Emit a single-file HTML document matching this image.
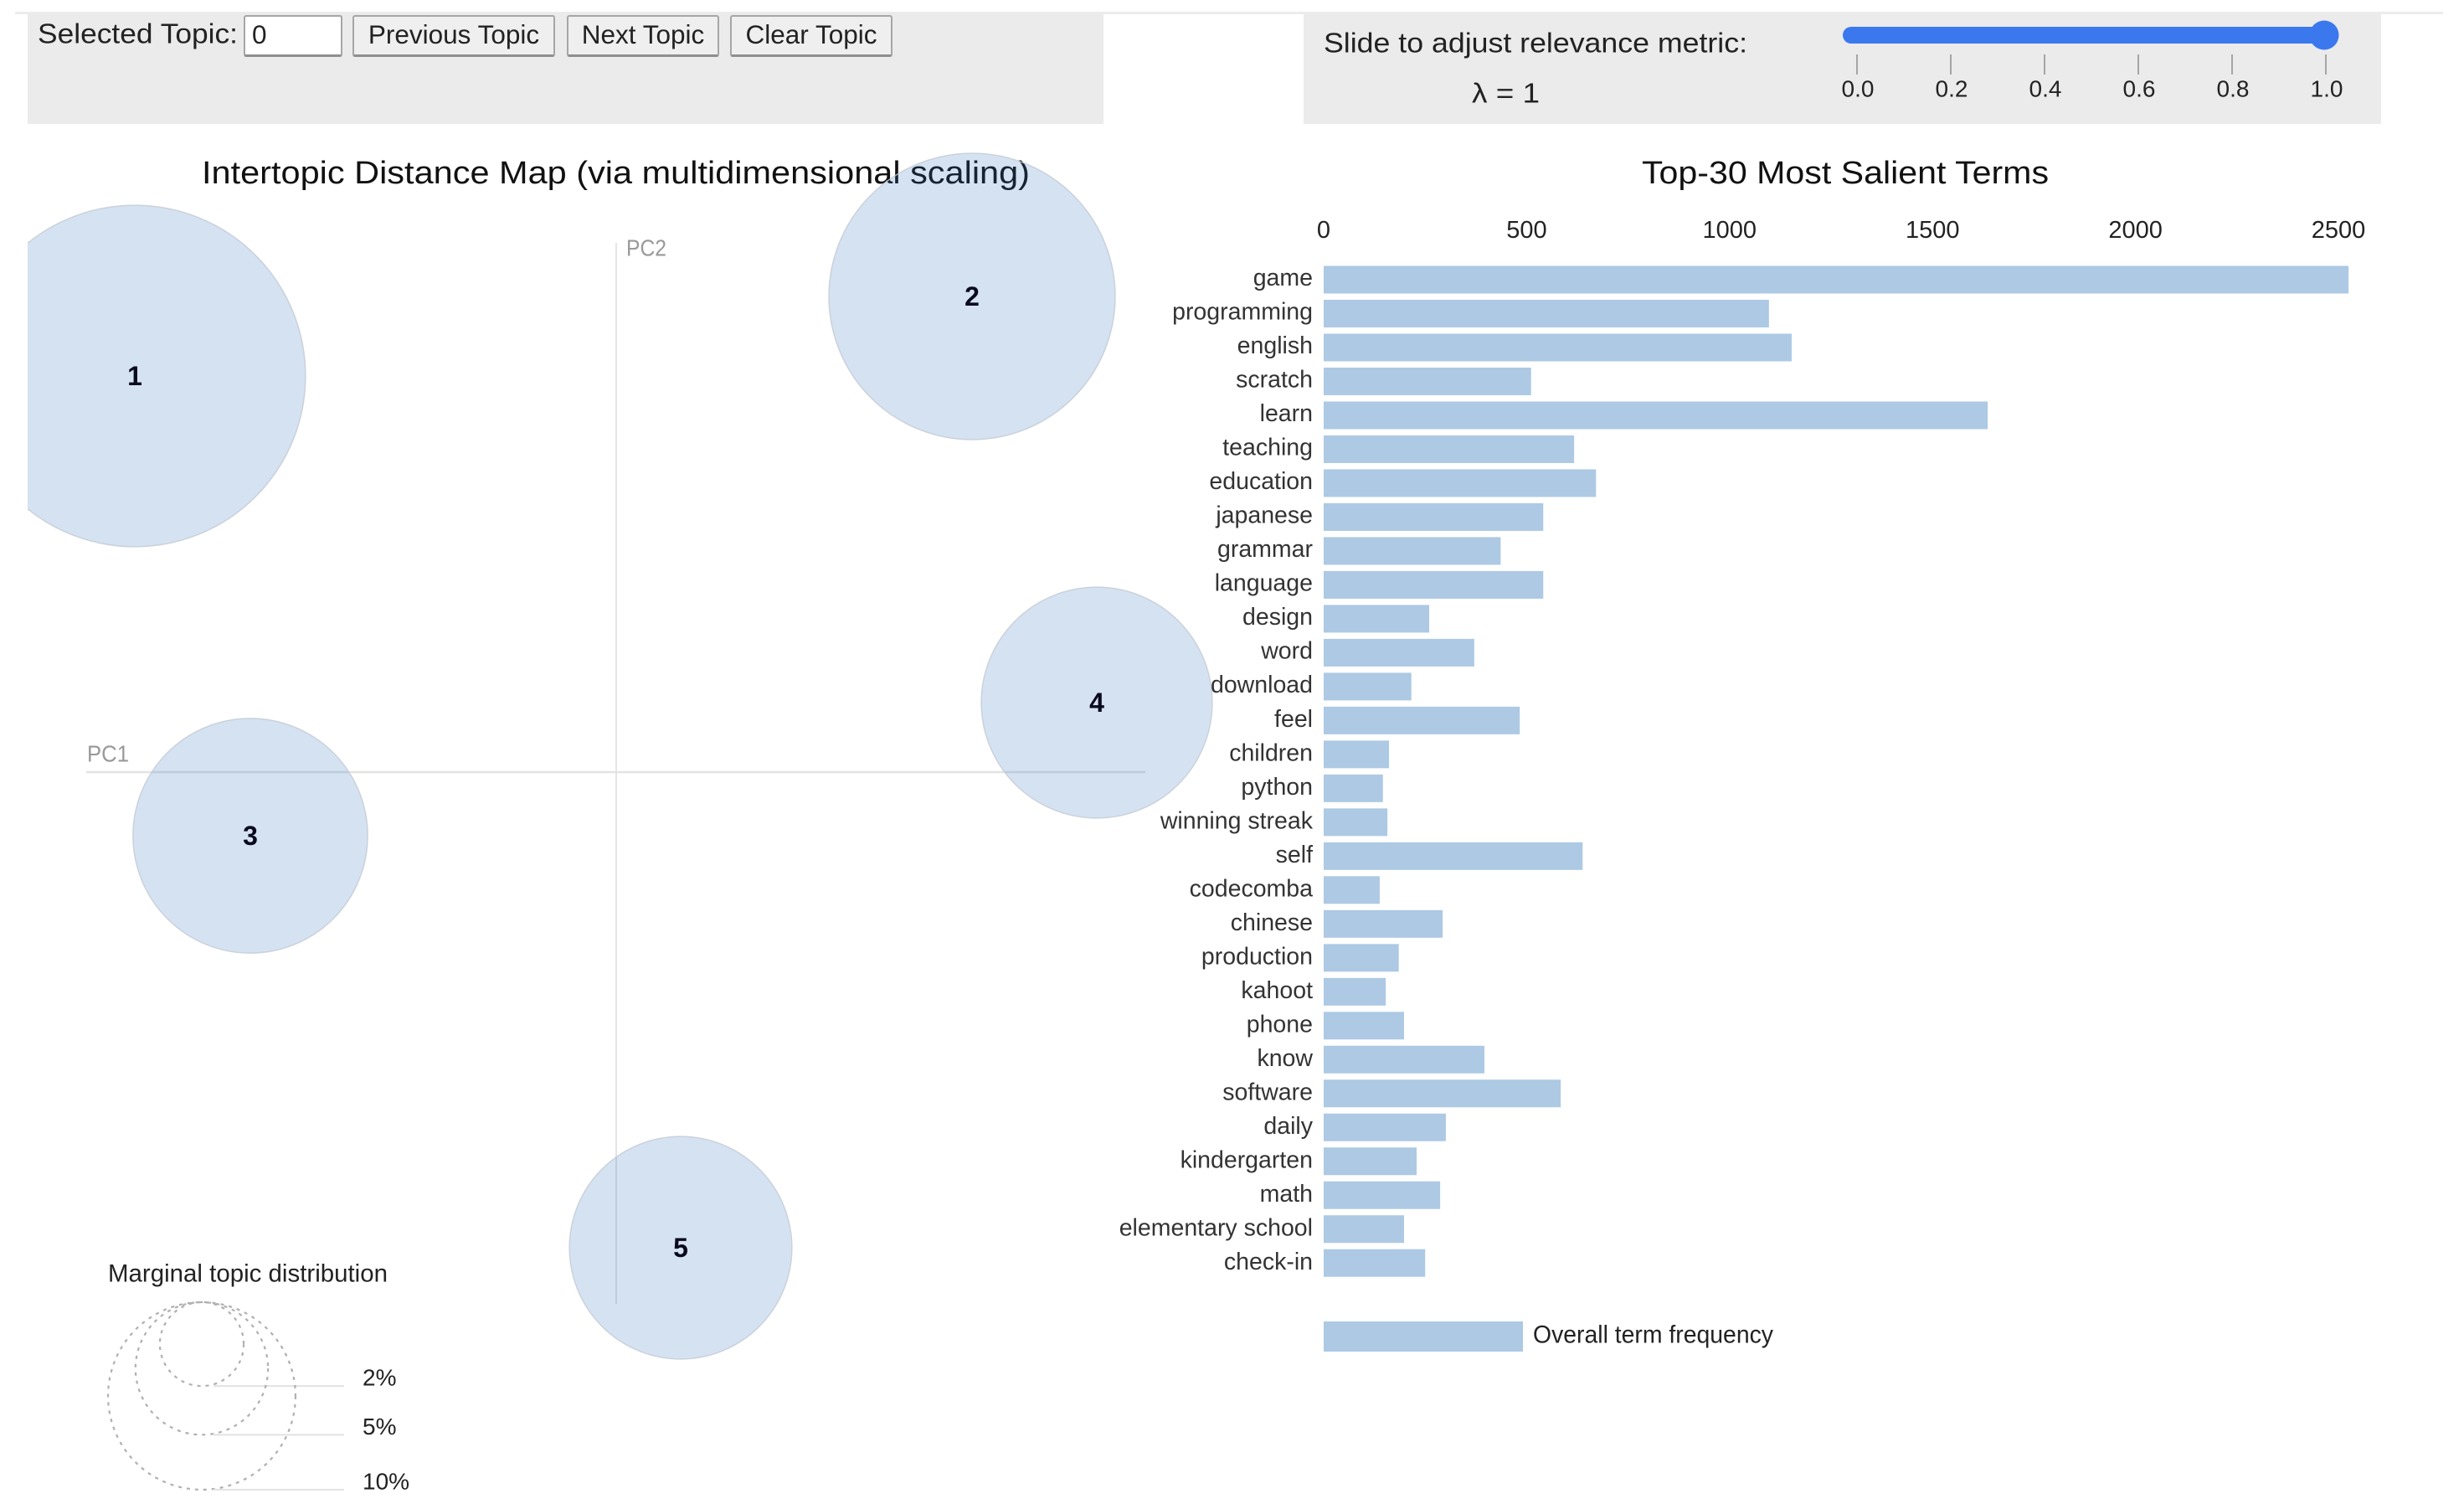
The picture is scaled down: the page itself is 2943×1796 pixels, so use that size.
<!DOCTYPE html>
<html lang="en">
<head>
<meta charset="utf-8">
<title>Intertopic Distance Map</title>
<style>
html,body{margin:0;padding:0;background:#fff;}
body{width:2943px;height:1796px;overflow:hidden;position:relative;font-family:"Liberation Sans",sans-serif;}
#chart{position:absolute;left:0;top:0;}
.ctl{position:absolute;box-sizing:border-box;top:18px;height:50px;font-family:"Liberation Sans",sans-serif;font-size:31.5px;line-height:42px;color:#222;border:2px solid #a6a6a6;border-bottom:3px solid #8f8f8f;border-radius:3px;background:#efefef;padding:0 0 3px 0;margin:0;}
input.ctl{background:#fff;padding:0 0 2px 8px;outline:none;}
</style>
</head>
<body>
<svg id="chart" width="2943" height="1796" viewBox="0 0 2943 1796" xmlns="http://www.w3.org/2000/svg" font-family="'Liberation Sans',sans-serif">
  <defs><clipPath id="mapClip"><rect x="33" y="0" width="2000" height="1796"></rect></clipPath></defs>
  <rect x="18" y="14" width="2900" height="3" fill="#ececec"></rect>
  <rect x="33" y="16" width="1285" height="132" fill="#ebebeb"></rect>
  <rect x="1557" y="16" width="1287" height="132" fill="#ebebeb"></rect>
  <text x="45" y="40" dominant-baseline="central" font-size="33" fill="#222" textLength="239" lengthAdjust="spacingAndGlyphs">Selected Topic:</text>
  <text x="1581" y="51" dominant-baseline="central" font-size="33" fill="#222" textLength="506" lengthAdjust="spacingAndGlyphs">Slide to adjust relevance metric:</text>
  <text x="1758" y="111" dominant-baseline="central" font-size="33" fill="#222" textLength="81" lengthAdjust="spacingAndGlyphs">λ = 1</text>
  <g id="slider"></g>
  <text x="241" y="207" dominant-baseline="central" font-size="38" fill="#111" textLength="989" lengthAdjust="spacingAndGlyphs">Intertopic Distance Map (via multidimensional scaling)</text>
  <text x="1961" y="207" dominant-baseline="central" font-size="38" fill="#111" textLength="486" lengthAdjust="spacingAndGlyphs">Top-30 Most Salient Terms</text>
  <g id="axes">
    <line x1="736" y1="290" x2="736" y2="1557" stroke="#e4e4e4" stroke-width="2"></line>
    <line x1="103" y1="922" x2="1368" y2="922" stroke="#e4e4e4" stroke-width="2.5"></line>
    <text x="748" y="296" dominant-baseline="central" font-size="28" fill="#999" textLength="48" lengthAdjust="spacingAndGlyphs">PC2</text>
    <text x="104" y="900" dominant-baseline="central" font-size="28" fill="#999" textLength="50" lengthAdjust="spacingAndGlyphs">PC1</text>
  </g>
  <g id="topics" clip-path="url(#mapClip)"></g>
  <text x="129" y="1521" dominant-baseline="central" font-size="30" fill="#222" textLength="334" lengthAdjust="spacingAndGlyphs">Marginal topic distribution</text>
  <g id="sizeLegend"></g>
  <g id="xAxis"></g>
  <g id="bars"></g>
  <g id="barLegend">
    <rect x="1581" y="1578" width="238" height="36" fill="#adc9e4"></rect>
    <text x="1831" y="1594" dominant-baseline="central" font-size="30" fill="#222" textLength="287" lengthAdjust="spacingAndGlyphs">Overall term frequency</text>
  </g>
</svg>
<input class="ctl" type="text" value="0" style="left:291px;width:118px;">
<button class="ctl" style="left:421px;width:242px;">Previous Topic</button>
<button class="ctl" style="left:677px;width:182px;">Next Topic</button>
<button class="ctl" style="left:872px;width:194px;">Clear Topic</button>
<script>
const terms = ["game","programming","english","scratch","learn","teaching","education","japanese","grammar","language","design","word","download","feel","children","python","winning streak","self","codecomba","chinese","production","kahoot","phone","know","software","daily","kindergarten","math","elementary school","check-in"];
const termFrequency = [2525,1097,1153,511,1636,617,671,541,436,541,260,371,216,483,161,146,157,638,138,293,185,153,198,396,584,301,229,287,198,250];
const frequencyTicks = [0,500,1000,1500,2000,2500];
const topicIds = [1,2,3,4,5];
const topicPC1 = [-0.287,0.213,-0.218,0.2875,0.039];
const topicPC2 = [0.237,0.2845,-0.0375,0.042,-0.2835];
const topicShare = [33.5,23.6,15.9,15.4,14.3];
const legendShares = [2,5,10];
const sliderTicks = [0,0.2,0.4,0.6,0.8,1];
const lambdaValue = 1;

const NS = "http://www.w3.org/2000/svg";
function make(tag, parent, attrs, text) {
  const el = document.createElementNS(NS, tag);
  for (const k in attrs) el.setAttribute(k, attrs[k]);
  if (text !== undefined) el.textContent = text;
  parent.appendChild(el);
  return el;
}
const freqX = v => 1581 + v * 0.4848;
const rowY = i => 334 + i * 40.52;
const pc1X = v => 735 + v * 2000;
const pc2Y = v => 923 - v * 2000;
const shareR = p => 35.4 * Math.sqrt(p);
const lambdaX = v => 2218 + v * 560;

const sliderG = document.getElementById("slider");
const track = make("rect", sliderG, {x: 2201, y: 32, width: lambdaX(lambdaValue) - 2201, height: 20, rx: 10, fill: "#3b78ee"});


const thumb = make("circle", sliderG, {cx: lambdaX(lambdaValue) - 2, cy: 42, r: 17.5, fill: "#3b78ee"});


sliderTicks.forEach(t => {
  const tick = make("line", sliderG, {x1: lambdaX(t), x2: lambdaX(t), y1: 65, y2: 89, stroke: "#a5a5a5", "stroke-width": 2});
  
  
  const label = make("text", sliderG, {x: lambdaX(t) + 1, y: 106, "text-anchor": "middle", "dominant-baseline": "central", "font-size": 28, fill: "#222"}, t.toFixed(1));
  
  
});

const topicsG = document.getElementById("topics");
topicIds.forEach((id, i) => {
  const circle = make("circle", topicsG, {cx: pc1X(topicPC1[i]), cy: pc2Y(topicPC2[i]), r: shareR(topicShare[i]) - 1, fill: "rgb(45,110,185)", "fill-opacity": 0.2, stroke: "#c4cad4", "stroke-width": 1.5, "stroke-opacity": 0.8});
  
  
  const label = make("text", topicsG, {x: pc1X(topicPC1[i]), y: pc2Y(topicPC2[i]), "text-anchor": "middle", "dominant-baseline": "central", "font-size": 32, "font-weight": "bold", fill: "#0a0a1e"}, id);
  
  
});

const legendG = document.getElementById("sizeLegend");
legendShares.forEach(p => {
  const r = shareR(p);
  const ring = make("circle", legendG, {cx: 241, cy: 1555 + r, r: r, fill: "none", stroke: "#b0b0b0", "stroke-width": 2.2, "stroke-dasharray": "4 6"});
  
  
  const leader = make("line", legendG, {x1: 255, x2: 411, y1: 1555 + 2 * r, y2: 1555 + 2 * r, stroke: "#e2e2e2", "stroke-width": 2});
  
  
  const label = make("text", legendG, {x: 433, y: 1555 + 2 * r - 10, "dominant-baseline": "central", "font-size": 28, fill: "#222"}, p + "%");
  
  
});

const xAxisG = document.getElementById("xAxis");
frequencyTicks.forEach(t => {
  const label = make("text", xAxisG, {x: freqX(t), y: 275, "text-anchor": "middle", "dominant-baseline": "central", "font-size": 29, fill: "#222"}, t);
  
  
});

const barsG = document.getElementById("bars");
terms.forEach((term, i) => {
  const bar = make("rect", barsG, {x: freqX(0), y: rowY(i) - 16.5 - i * 0.03, width: freqX(termFrequency[i]) - freqX(0), height: 33, fill: "#adc9e4"});
  
  
  const label = make("text", barsG, {x: 1568, y: rowY(i) - 2, "text-anchor": "end", "dominant-baseline": "central", "font-size": 28.5, fill: "#333"}, term);
  
  
});
</script>
</body>
</html>
